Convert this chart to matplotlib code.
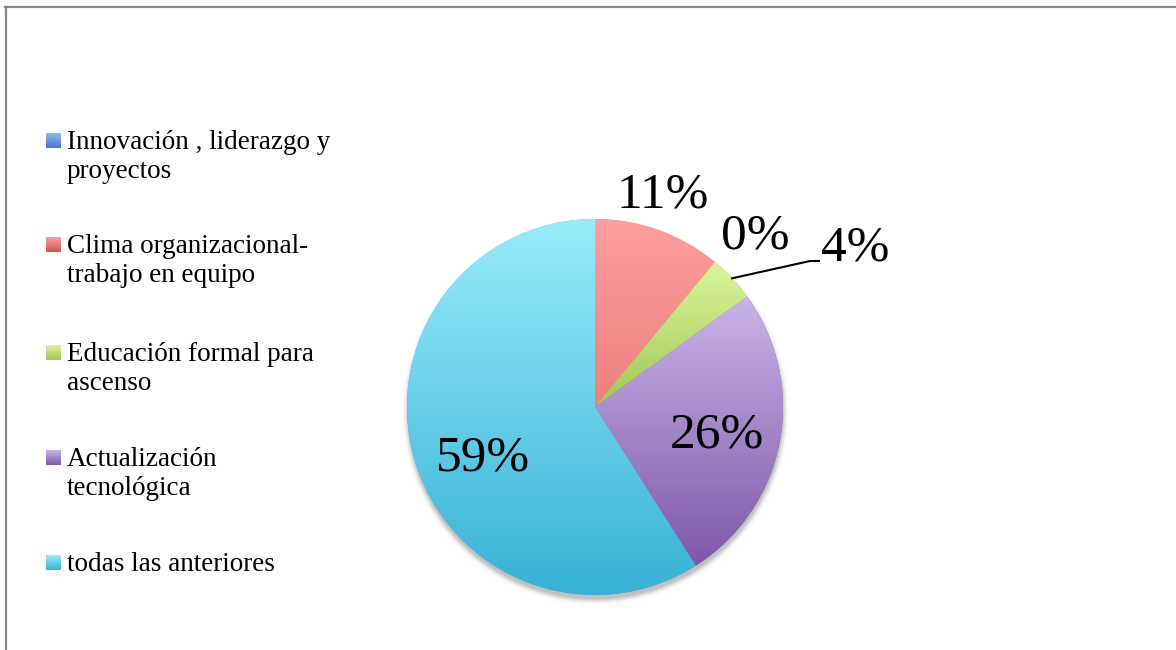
import numpy as np
import matplotlib
matplotlib.use("Agg")
import matplotlib.pyplot as plt
from matplotlib.patches import Rectangle
from matplotlib.lines import Line2D

# Datos de la encuesta
categorias = [
    "Innovación , liderazgo y\nproyectos",
    "Clima organizacional-\ntrabajo en equipo",
    "Educación formal para\nascenso",
    "Actualización\ntecnológica",
    "todas las anteriores",
]
porcentajes = [0, 11, 4, 26, 59]

# Degradado de cada serie: color arriba, color abajo
color_arriba = [(150, 185, 240), (252, 158, 158), (218, 246, 155), (202, 180, 232), (152, 236, 251)]
color_abajo = [(70, 120, 195), (238, 128, 124), (160, 198, 85), (126, 88, 168), (56, 178, 214)]
color_leyenda_abajo = [(70, 120, 195), (205, 85, 80), (160, 198, 85), (126, 88, 168), (56, 178, 214)]

W, H = 1176, 650
fig = plt.figure(figsize=(W / 100, H / 100), dpi=100)
ax = fig.add_axes([0, 0, 1, 1])

cx, cy, R = 595, H - 407, 188


def degradado(artist_patch, x0, x1, y0, y1, top, bottom, z):
    t = np.linspace(0, 1, 256)[:, None]
    a = np.array(top) / 255.0
    b = np.array(bottom) / 255.0
    img = (a[None, :] * (1 - t) + b[None, :] * t)[:, None, :]
    im = ax.imshow(img, extent=(x0, x1, y0, y1), origin="upper",
                   aspect="auto", zorder=z, interpolation="bilinear")
    im.set_clip_path(artist_patch)


# sombra suave bajo el pastel
yy, xx = np.mgrid[0:H, 0:W]
d = np.hypot(xx - cx, (H - yy) - (cy - 4))
alpha = np.clip(np.exp(-((d - R + 2) / 4.0) ** 2), 0, 1) * 0.45
alpha[d < R - 2] = 0.45
sombra = np.zeros((H, W, 4))
sombra[..., :3] = 0.45
sombra[..., 3] = alpha
ax.imshow(sombra, extent=(0, W, 0, H), origin="upper", zorder=0.5, aspect="auto")

wedges, _ = ax.pie(porcentajes, center=(cx, cy), radius=R, startangle=90,
                   counterclock=False, labels=None,
                   colors=[np.array(c) / 255 for c in color_abajo],
                   wedgeprops=dict(edgecolor="none", linewidth=0))

for w, v, top, bottom in zip(wedges, porcentajes, color_arriba, color_abajo):
    w.set_zorder(1)
    if v == 0:
        continue
    th = np.radians(np.linspace(w.theta1, w.theta2, 200))
    ys = np.concatenate([[cy], cy + R * np.sin(th)])
    xs = np.concatenate([[cx], cx + R * np.cos(th)])
    degradado(w, xs.min(), xs.max(), ys.min(), ys.max(), top, bottom, 2)

# etiquetas de porcentaje
pos_etiquetas = [(755, 236), (663, 195), (855, 248), (717, 435), (483, 458)]
for v, (px, py) in zip(porcentajes, pos_etiquetas):
    ax.text(px, H - py, f"{v}%", ha="center", va="center", fontsize=37,
            family="Liberation Serif", color="black", zorder=5)

# línea guía de la etiqueta 4%
w = wedges[2]
mid = np.radians((w.theta1 + w.theta2) / 2)
x0, y0 = cx + R * np.cos(mid), cy + R * np.sin(mid)
ax.add_line(Line2D([x0, 810, 819], [y0, H - 261, H - 261], color="black",
                   lw=1.5, zorder=4))

# leyenda (línea base de la primera línea de cada entrada)
base_y = [149, 253, 361, 466, 571]
interlineado = 29
for lab, by, top, bottom in zip(categorias, base_y, color_arriba, color_leyenda_abajo):
    my = H - by + 1
    sq = Rectangle((46, my), 15, 15, facecolor="none", edgecolor="none")
    ax.add_patch(sq)
    degradado(sq, 46, 61, my, my + 15, top, bottom, 3)
    n = lab.count("\n")
    ax.text(67, H - by - n * interlineado, lab, ha="left", va="baseline",
            fontsize=19.5, family="Liberation Serif", color="black",
            linespacing=1.2, zorder=5)

# marco del gráfico
fig.add_artist(Line2D([5 / W, 1], [1 - 6.5 / H, 1 - 6.5 / H],
                      transform=fig.transFigure, color="#888888", lw=1.6))
fig.add_artist(Line2D([5.5 / W, 5.5 / W], [0, 1 - 6.5 / H],
                      transform=fig.transFigure, color="#888888", lw=1.6))

ax.set_xlim(0, W)
ax.set_ylim(0, H)
ax.set_aspect("auto")
ax.axis("off")

fig.savefig("out.png", dpi=100, facecolor="white")
